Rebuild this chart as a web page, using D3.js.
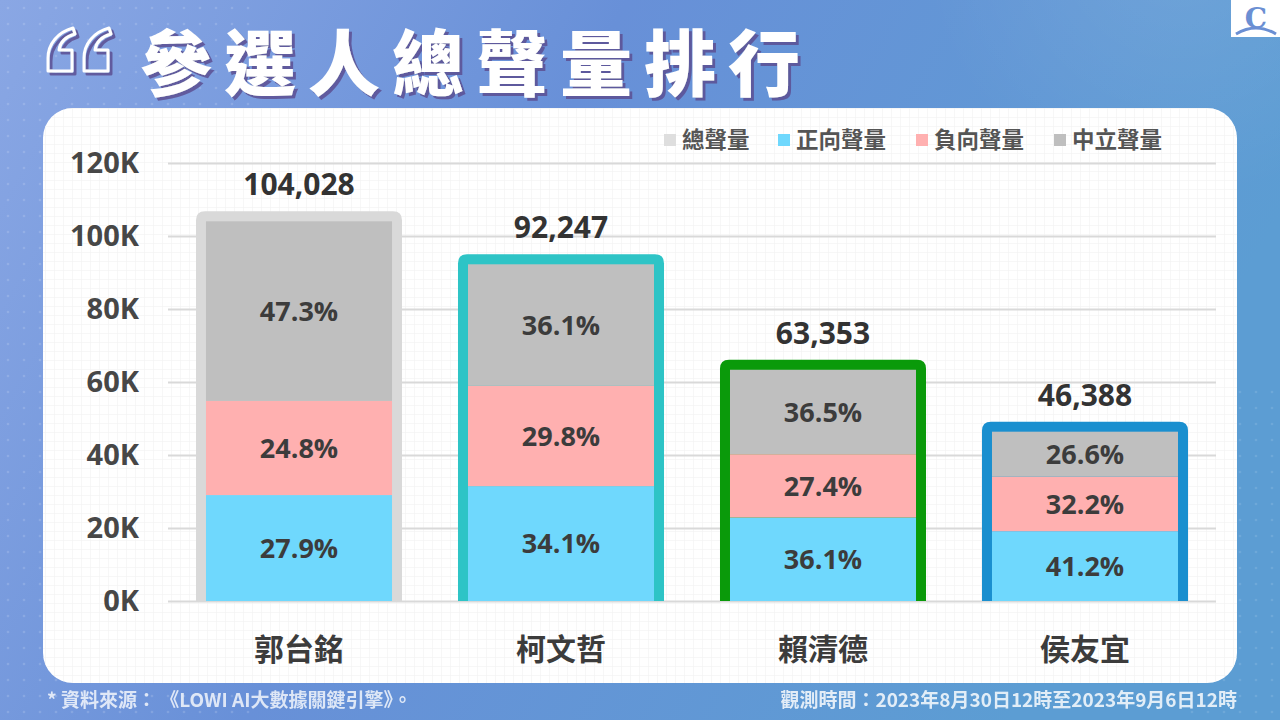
<!DOCTYPE html>
<html><head><meta charset="utf-8">
<script src="https://cdn.jsdelivr.net/npm/d3@7"></script>
<style>
html,body{margin:0;padding:0;overflow:hidden;background:#6f98da;}
svg{display:block;}
</style></head>
<body>
<svg id="chart" width="1280" height="720"></svg>
<script>
// ---- data ----
const categories = ["郭台銘", "柯文哲", "賴清德", "侯友宜"];
const totals = [104028, 92247, 63353, 46388];
const positive = [29024, 31456, 22870, 19112];
const negative = [25799, 27490, 17359, 14937];
const neutral = [49205, 33301, 23124, 12339];
const positivePct = ["27.9%", "34.1%", "36.1%", "41.2%"];
const negativePct = ["24.8%", "29.8%", "27.4%", "32.2%"];
const neutralPct = ["47.3%", "36.1%", "36.5%", "26.6%"];
const totalLabels = ["104,028", "92,247", "63,353", "46,388"];
const yTicks = [0, 20000, 40000, 60000, 80000, 100000, 120000];
const legendNames = ["總聲量", "正向聲量", "負向聲量", "中立聲量"];
const title = "參選人總聲量排行";
const sourceNote = "* 資料來源： 《LOWI AI大數據關鍵引擎》。";
const timeNote = "觀測時間：2023年8月30日12時至2023年9月6日12時";

// ---- styles ----
const segColors = {positive: "#6fd8fd", negative: "#ffb0b0", neutral: "#bfbfbf"};
const borderColors = ["#d9d9d9", "#2ec4c6", "#0a9a0a", "#1a8fcf"];
const legendColors = ["#dedede", "#6fd8fd", "#ffb0b0", "#bfbfbf"];
const CJK = "'Noto Sans CJK TC','Noto Sans CJK SC',sans-serif";
const NUM = "'Open Sans','Noto Sans',sans-serif";

const svg = d3.select("#chart");
const defs = svg.append("defs");

// background gradient
const bg = defs.append("linearGradient").attr("id", "bg").attr("x1", 0).attr("y1", 0).attr("x2", 1).attr("y2", 0.3);
bg.append("stop").attr("offset", "0%").attr("stop-color", "#8aa7e4");
bg.append("stop").attr("offset", "45%").attr("stop-color", "#6890d8");
bg.append("stop").attr("offset", "100%").attr("stop-color", "#5c9dd3");
const glow = defs.append("radialGradient").attr("id", "glow").attr("cx", 0.5).attr("cy", 0.5).attr("r", 0.5);
glow.append("stop").attr("offset", "0%").attr("stop-color", "#ffffff").attr("stop-opacity", 0.10);
glow.append("stop").attr("offset", "100%").attr("stop-color", "#ffffff").attr("stop-opacity", 0);
const dots = defs.append("pattern").attr("id", "dots").attr("width", 16).attr("height", 16).attr("patternUnits", "userSpaceOnUse");
dots.append("circle").attr("cx", 8).attr("cy", 8).attr("r", 1.3).attr("fill", "#ffffff").attr("opacity", 0.18);
const grid = defs.append("pattern").attr("id", "grid").attr("width", 9).attr("height", 9).attr("patternUnits", "userSpaceOnUse");
grid.append("path").attr("d", "M9 0 H0 V9").attr("fill", "none").attr("stroke", "#efefef").attr("stroke-width", 1);
const shadow = defs.append("filter").attr("id", "tshadow").attr("x", "-10%").attr("y", "-20%").attr("width", "130%").attr("height", "150%");
shadow.append("feDropShadow").attr("dx", 3).attr("dy", 3).attr("stdDeviation", 0.6).attr("flood-color", "#5b4f93").attr("flood-opacity", 0.85);

svg.append("rect").attr("width", 1280).attr("height", 720).attr("fill", "url(#bg)");
svg.append("circle").attr("cx", 1180).attr("cy", -60).attr("r", 260).attr("fill", "url(#glow)");
svg.append("rect").attr("x", 0).attr("y", 0).attr("width", 260).attr("height", 720).attr("fill", "url(#dots)").attr("opacity", 0.8);
svg.append("rect").attr("x", 1180).attr("y", 380).attr("width", 100).attr("height", 340).attr("fill", "url(#dots)").attr("opacity", 0.6);

// logo
svg.append("rect").attr("x", 1231).attr("y", 0).attr("width", 49).attr("height", 37).attr("fill", "#ffffff");
svg.append("text").attr("x", 1256).attr("y", 28).attr("text-anchor", "middle")
  .attr("font-family", "'DejaVu Serif','Liberation Serif',serif").attr("font-weight", 700)
  .attr("font-size", 28).attr("fill", "#6b8fd3").text("C");
svg.append("path").attr("d", "M1236 34 Q1256 22 1276 34").attr("fill", "none").attr("stroke", "#6b8fd3").attr("stroke-width", 3);

// opening quote mark (outlined "66" shapes)
const quoteShape = "M27 1 C12 5 2 17 2 31 L2 44 L26 44 L26 23 L13 23 C14 15 19 10 29 7 Z";
[46, 82].forEach(qx => {
  svg.append("path").attr("d", quoteShape).attr("transform", `translate(${qx},27)`)
    .attr("fill", "none").attr("stroke", "#ffffff").attr("stroke-width", 3).attr("stroke-linejoin", "round")
    .attr("filter", "url(#tshadow)");
});

// title
svg.append("text").attr("x", 140).attr("y", 90)
  .attr("font-family", CJK).attr("font-weight", 900).attr("font-size", 72)
  .attr("letter-spacing", 12).attr("fill", "#ffffff").attr("filter", "url(#tshadow)").text(title);

// panel
svg.append("rect").attr("x", 43).attr("y", 108).attr("width", 1194).attr("height", 575).attr("rx", 30).attr("fill", "#ffffff");
svg.append("rect").attr("x", 43).attr("y", 108).attr("width", 1194).attr("height", 575).attr("rx", 30).attr("fill", "url(#grid)");

// scales
const x0 = 168, x1 = 1216, yBase = 601, yTop = 163;
const x = d3.scaleBand().domain(categories).range([x0, x1]).paddingInner(0.29).paddingOuter(0.145);
const y = d3.scaleLinear().domain([0, 120000]).range([yBase, yTop]);

// gridlines + y labels
const yAxis = svg.append("g").attr("transform", `translate(${x0},0)`)
  .call(d3.axisLeft(y).tickValues(yTicks).tickSize(-(x1 - x0)).tickPadding(29).tickFormat(d => (d / 1000) + "K"));
yAxis.select(".domain").remove();
yAxis.selectAll("line").attr("stroke", "#d9d9d9").attr("stroke-width", 2);
yAxis.selectAll("text").attr("font-family", NUM).attr("font-weight", 700).attr("font-size", 29).attr("fill", "#474747");

// stacked data
const rows = categories.map((c, i) => ({cat: c, positive: positive[i], negative: negative[i], neutral: neutral[i]}));
const keys = ["positive", "negative", "neutral"];
const pctLabels = {positive: positivePct, negative: negativePct, neutral: neutralPct};
const stacked = d3.stack().keys(keys)(rows);

// total borders
const bw = x.bandwidth();
svg.append("g").selectAll("path").data(categories).join("path")
  .attr("d", (c, i) => {
    const L = x(c) - 10, R = x(c) + bw + 10, T = y(totals[i]) - 10, B = y(0), r = 9;
    return `M${L},${B} V${T + r} Q${L},${T} ${L + r},${T} H${R - r} Q${R},${T} ${R},${T + r} V${B} Z`;
  })
  .attr("fill", (c, i) => borderColors[i]);

// segments
const segG = svg.append("g");
stacked.forEach(layer => {
  segG.append("g").selectAll("rect").data(layer).join("rect")
    .attr("x", d => x(d.data.cat))
    .attr("y", d => y(d[1]))
    .attr("width", bw)
    .attr("height", d => y(d[0]) - y(d[1]))
    .attr("fill", segColors[layer.key]);
});
stacked.forEach(layer => {
  segG.append("g").selectAll("text").data(layer).join("text")
    .attr("x", d => x(d.data.cat) + bw / 2)
    .attr("y", d => (y(d[0]) + y(d[1])) / 2)
    .attr("dy", "0.36em")
    .attr("text-anchor", "middle")
    .attr("font-family", NUM).attr("font-weight", 700).attr("font-size", 27).attr("fill", "#3c3c3c")
    .text((d, i) => pctLabels[layer.key][i]);
});

// total labels
svg.append("g").selectAll("text").data(categories).join("text")
  .attr("x", c => x(c) + bw / 2)
  .attr("y", (c, i) => y(totals[i]) - 26)
  .attr("text-anchor", "middle")
  .attr("font-family", NUM).attr("font-weight", 700).attr("font-size", 30).attr("fill", "#333333")
  .text((c, i) => totalLabels[i]);

// category labels
const xAxis = svg.append("g").attr("transform", `translate(0,${yBase})`)
  .call(d3.axisBottom(x).tickSize(0).tickPadding(38));
xAxis.select(".domain").remove();
xAxis.selectAll("text").attr("font-family", CJK).attr("font-weight", 700).attr("font-size", 30).attr("fill", "#3c3c3c");

// legend
const legendX = [664, 778, 916, 1054];
const lg = svg.append("g").selectAll("g").data(legendNames).join("g")
  .attr("transform", (d, i) => `translate(${legendX[i]},140)`);
lg.append("rect").attr("x", 0).attr("y", -6).attr("width", 12).attr("height", 12).attr("fill", (d, i) => legendColors[i]);
lg.append("text").attr("x", 18).attr("dy", "0.35em")
  .attr("font-family", CJK).attr("font-weight", 700).attr("font-size", 22.5).attr("fill", "#555555").text(d => d);

// footer
svg.append("text").attr("x", 47).attr("y", 707)
  .attr("font-family", CJK).attr("font-weight", 700).attr("font-size", 19).attr("fill", "#ffffff").attr("opacity", 0.78)
  .text(sourceNote);
svg.append("text").attr("x", 1237).attr("y", 707).attr("text-anchor", "end")
  .attr("font-family", CJK).attr("font-weight", 700).attr("font-size", 19).attr("fill", "#ffffff").attr("opacity", 0.82)
  .text(timeNote);
</script>
</body></html>
